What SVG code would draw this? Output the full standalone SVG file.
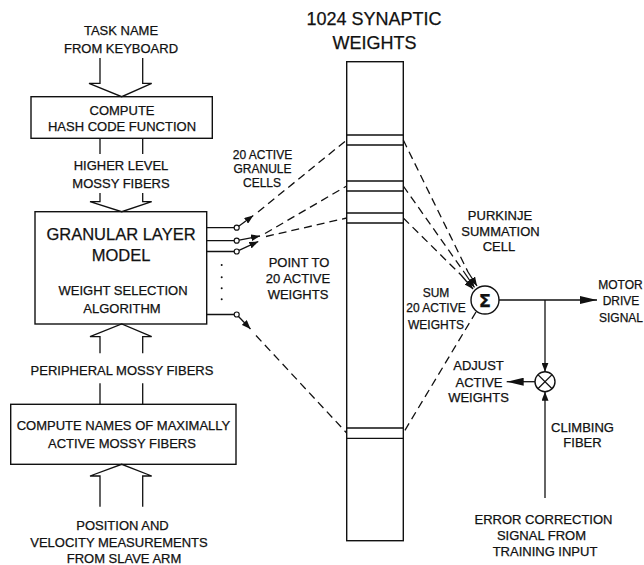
<svg xmlns="http://www.w3.org/2000/svg" width="644" height="565" viewBox="0 0 644 565">
<style>
text{font-family:"Liberation Sans",Arial,sans-serif;font-size:13px;fill:#111;stroke:#111;stroke-width:0.25;text-anchor:middle}
.sm{font-size:12px}
.big{font-size:16.5px}
.title{font-size:18px}
.box{fill:none;stroke:#111;stroke-width:1.4}
.ln{fill:none;stroke:#111;stroke-width:1.3}
.dash{fill:none;stroke:#111;stroke-width:1.3;stroke-dasharray:8 5}
.sw{fill:#fff;stroke:#111;stroke-width:1.2}
.dot{fill:#111}
</style>
<defs>
<marker id="ah" markerUnits="userSpaceOnUse" markerWidth="9" markerHeight="7" refX="9" refY="3.5" orient="auto"><path d="M0,0 L9,3.5 L0,7 z" fill="#111"/></marker>
<marker id="ahl" markerUnits="userSpaceOnUse" markerWidth="17" markerHeight="8" refX="17" refY="4" orient="auto"><path d="M0,0 L17,4 L0,8 z" fill="#111"/></marker>
</defs>
<rect width="644" height="565" fill="#fff"/>

<g id="task-name">
<text x="121" y="35">TASK NAME</text>
<text x="121" y="53">FROM KEYBOARD</text>
</g>
<g id="hash-box">
<rect class="box" x="31" y="96.7" width="181.3" height="41.6"/>
<text x="122" y="114.5">COMPUTE</text>
<text x="122" y="131">HASH CODE FUNCTION</text>
</g>
<g id="higher-level">
<text x="121" y="169.5">HIGHER LEVEL</text>
<text x="121" y="187.5">MOSSY FIBERS</text>
</g>
<g id="granular-layer">
<rect class="box" x="35" y="211.7" width="171.7" height="112.3"/>
<text class="big" x="121" y="239.5">GRANULAR LAYER</text>
<text class="big" x="121" y="260.5">MODEL</text>
<text x="123" y="295">WEIGHT SELECTION</text>
<text x="122" y="312.5">ALGORITHM</text>
</g>
<g id="peripheral">
<text x="122" y="375">PERIPHERAL MOSSY FIBERS</text>
</g>
<g id="compute-names">
<rect class="box" x="10.7" y="404.3" width="225.3" height="60"/>
<text x="123.5" y="429.5">COMPUTE NAMES OF MAXIMALLY</text>
<text x="122" y="447.5">ACTIVE MOSSY FIBERS</text>
</g>
<g id="position">
<text x="122.5" y="529.5">POSITION AND</text>
<text x="119" y="547">VELOCITY MEASUREMENTS</text>
<text x="124" y="563">FROM SLAVE ARM</text>
</g>
<g id="weights-column">
<text class="title" x="374" y="25">1024 SYNAPTIC</text>
<text class="title" x="374.5" y="48.5">WEIGHTS</text>
<rect class="box" x="346.7" y="61.7" width="56.6" height="479"/>
<path class="ln" d="M346.7,135H403.3M346.7,145H403.3M346.7,181H403.3M346.7,191H403.3M346.7,213H403.3M346.7,223H403.3M346.7,428H403.3M346.7,438.3H403.3"/>
</g>
<g id="granule-cells-label">
<text class="sm" x="262.5" y="158.5">20 ACTIVE</text>
<text class="sm" x="262.5" y="172.5">GRANULE</text>
<text class="sm" x="262" y="187">CELLS</text>
</g>
<g id="point-to-label">
<text x="299" y="267">POINT TO</text>
<text x="298" y="283">20 ACTIVE</text>
<text x="298" y="299">WEIGHTS</text>
</g>
<g id="purkinje">
<circle class="box" cx="485" cy="300" r="14"/>
<text x="485" y="306.5" style="font-family:'DejaVu Sans',sans-serif;font-size:18px;font-weight:bold">Σ</text>
<text x="500" y="220">PURKINJE</text>
<text x="500.5" y="236">SUMMATION</text>
<text x="499" y="251">CELL</text>
</g>
<g id="sum-label">
<text class="sm" x="436" y="297">SUM</text>
<text class="sm" x="436" y="312">20 ACTIVE</text>
<text class="sm" x="436" y="328.5">WEIGHTS</text>
</g>
<g id="motor-drive">
<text class="sm" x="620.5" y="288.5">MOTOR</text>
<text class="sm" x="621" y="305">DRIVE</text>
<text class="sm" x="621" y="322">SIGNAL</text>
</g>
<g id="multiplier">
<circle class="box" cx="545" cy="381.7" r="10"/>
<path class="ln" d="M537.9,374.6L552.1,388.8M552.1,374.6L537.9,388.8"/>
</g>
<g id="adjust-label">
<text x="478.5" y="370">ADJUST</text>
<text x="479" y="387">ACTIVE</text>
<text x="478.5" y="402">WEIGHTS</text>
</g>
<g id="climbing-fiber">
<text x="582.5" y="432">CLIMBING</text>
<text x="582.5" y="447">FIBER</text>
</g>
<g id="error-signal">
<text x="543.5" y="523.5">ERROR CORRECTION</text>
<text x="541.5" y="539.5">SIGNAL FROM</text>
<text x="545" y="556">TRAINING INPUT</text>
</g>

<g id="connectors">
<path class="ln" d="M100,58V83.3H89L121.7,96.7L151.7,83.3H142.7V58"/>
<path class="ln" d="M100,138.3V154M142.7,138.3V154"/>
<path class="ln" d="M100,193V201.7H90L121.7,211.7L151.7,201.7H142.7V193"/>
<path class="ln" d="M100,353.3V336.7H90L121.7,324L151.7,336.7H142.7V353.3"/>
<path class="ln" d="M100,383.3V404.3M142.7,383.3V404.3"/>
<path class="ln" d="M100,506.7V476H90L121.7,464.3L151.7,476H142.7V506.7"/>
<path class="ln" d="M206.7,227.7H234.2M206.7,240.7H234.2M206.7,251.5H234.2M206.7,314.5H234.2"/>
<circle class="sw" cx="236.7" cy="227.7" r="2.5"/>
<circle class="sw" cx="236.7" cy="240.7" r="2.5"/>
<circle class="sw" cx="236.7" cy="251.5" r="2.5"/>
<circle class="sw" cx="236.7" cy="314.5" r="2.5"/>
<circle class="dot" cx="221.7" cy="265" r="1"/>
<circle class="dot" cx="221.7" cy="277.3" r="1"/>
<circle class="dot" cx="221.7" cy="288.3" r="1"/>
<circle class="dot" cx="221.7" cy="299.3" r="1"/>
<path class="ln" marker-end="url(#ah)" d="M238.7,226.2L253.3,215.5"/>
<path class="ln" marker-end="url(#ah)" d="M239.2,240.2L260,236"/>
<path class="ln" marker-end="url(#ah)" d="M239,250.3L258.3,241.5"/>
<path class="ln" marker-end="url(#ah)" d="M238.5,316.5L250.5,329"/>
<path class="dash" d="M258,212L346.7,140"/>
<path class="dash" d="M265,233.5L346.7,186"/>
<path class="dash" d="M266,236.5L346.7,218"/>
<path class="dash" d="M256,335.5L346.7,433"/>
<path class="dash" d="M403.3,140L468,272"/>
<path class="dash" d="M403.3,186L464,272"/>
<path class="dash" d="M403.3,218L461,275"/>
<path class="ln" marker-end="url(#ah)" d="M468,272L477,286"/>
<path class="ln" marker-end="url(#ah)" d="M464,272L474.5,287.5"/>
<path class="ln" marker-end="url(#ah)" d="M461,275L473,289"/>
<path class="dash" d="M476,312L403.3,433"/>
<path class="ln" marker-end="url(#ahl)" d="M499,300H597"/>
<path class="ln" marker-end="url(#ah)" d="M545,300V371.7"/>
<path class="ln" marker-end="url(#ah)" d="M545,498V391.7"/>
<path class="ln" marker-end="url(#ahl)" d="M535,381.7H506.7"/>
</g>
</svg>
